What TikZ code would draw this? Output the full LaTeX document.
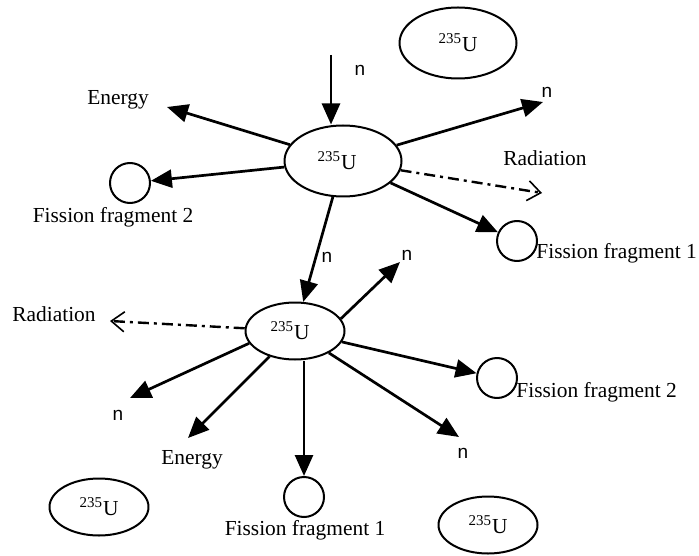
\documentclass[tikz,border=0pt]{standalone}
\usepackage{fontspec}
\setmainfont{Liberation Serif}
\newfontfamily\nfont{Liberation Sans}
\usetikzlibrary{shapes.geometric,arrows.meta}
\newcommand{\uran}{\textsuperscript{235}U}
\begin{document}
\begin{tikzpicture}[x=.5pt,y=-.5pt, font=\fontsize{10.7}{12}\selectfont, line join=round,
	hit/.style={line width=1.35pt,-{Triangle[length=10.5pt,width=9pt]}},
	ray/.style={line width=1.2pt,dash pattern=on 5.5pt off 2.5pt on 1.5pt off 2.5pt,-{Straight Barb[length=6.5pt,width=10pt,line width=.8pt]}},
	nucleus/.style={ellipse,draw,line width=1pt,inner sep=0pt,minimum width=58.5pt,minimum height=35.5pt},
	small nucleus/.style={nucleus,minimum width=49.5pt,minimum height=28.5pt},
	frag/.style={circle,draw,line width=1pt,minimum size=20pt,inner sep=0pt},
	nlab/.style={font=\nfont\fontsize{9.5}{10}\selectfont}]
	\useasboundingbox (0,0) rectangle (699,555);
	% nuclei and fragments
	\node[nucleus] (u0) at (458,43) {\uran};
	\node[nucleus] (u1) at (343,161) {\uran\kern6pt};
	\node[small nucleus] (u2) at (295,331) {\uran\kern5pt};
	\node[small nucleus] (u3) at (99,507) {\uran};
	\node[small nucleus] (u4) at (488,525) {\uran};
	\node[frag] (f1) at (130,183) {};
	\node[frag] (f2) at (517,241) {};
	\node[frag] (f3) at (497,378) {};
	\node[frag] (f4) at (304,497) {};
	% free ends
	\foreach \i/\x/\y in {0/331/55,1/167/107,2/543/102,3/542/193,4/400/262,5/110/321,6/130/398,7/188/438,8/459/437}
		\coordinate (a\i) at (\x,\y);
	% first fission
	\draw[hit] (a0) -- (a0 |- u1.north);
	\draw[hit] (u1) -- (a1);
	\draw[hit] (u1) -- (f1);
	\draw[hit] (u1) -- (a2);
	\draw[ray] (u1) -- (a3);
	\draw[hit] (u1) -- (f2);
	\draw[hit] (u1) -- (u2);
	% second fission
	\draw[hit] (u2.15) -- (a4);
	\draw[ray] (u2) -- (a5);
	\draw[hit] (u2.195) -- (a6);
	\draw[hit] (u2) -- (a7);
	\draw[hit] (f4 |- u2.south) -- (f4);
	\draw[hit] (u2) -- (f3);
	\draw[hit] (u2) -- (a8);
	% labels
	\node[nlab] (n0) at (360,70) {n};
	\node[nlab] (n1) at (547,92) {n};
	\node[nlab] (n2) at (327,257) {n};
	\node[nlab] (n3) at (407,255) {n};
	\node[nlab] (n4) at (118,415) {n};
	\node[nlab] (n5) at (463,453) {n};
	\node (e1) at (118,100) {Energy};
	\node (e2) at (192,460) {Energy};
	\node (r1) at (545,158) {Radiation};
	\node (r2) at (54,314) {Radiation};
	\node (l1) at (113,217) {Fission fragment 2};
	\node[anchor=west,inner sep=0pt] (l2) at (536,253) {Fission fragment 1};
	\node[anchor=west,inner sep=0pt] (l3) at (516,392) {Fission fragment 2};
	\node (l4) at (305,530) {Fission fragment 1};
\end{tikzpicture}
\end{document}
